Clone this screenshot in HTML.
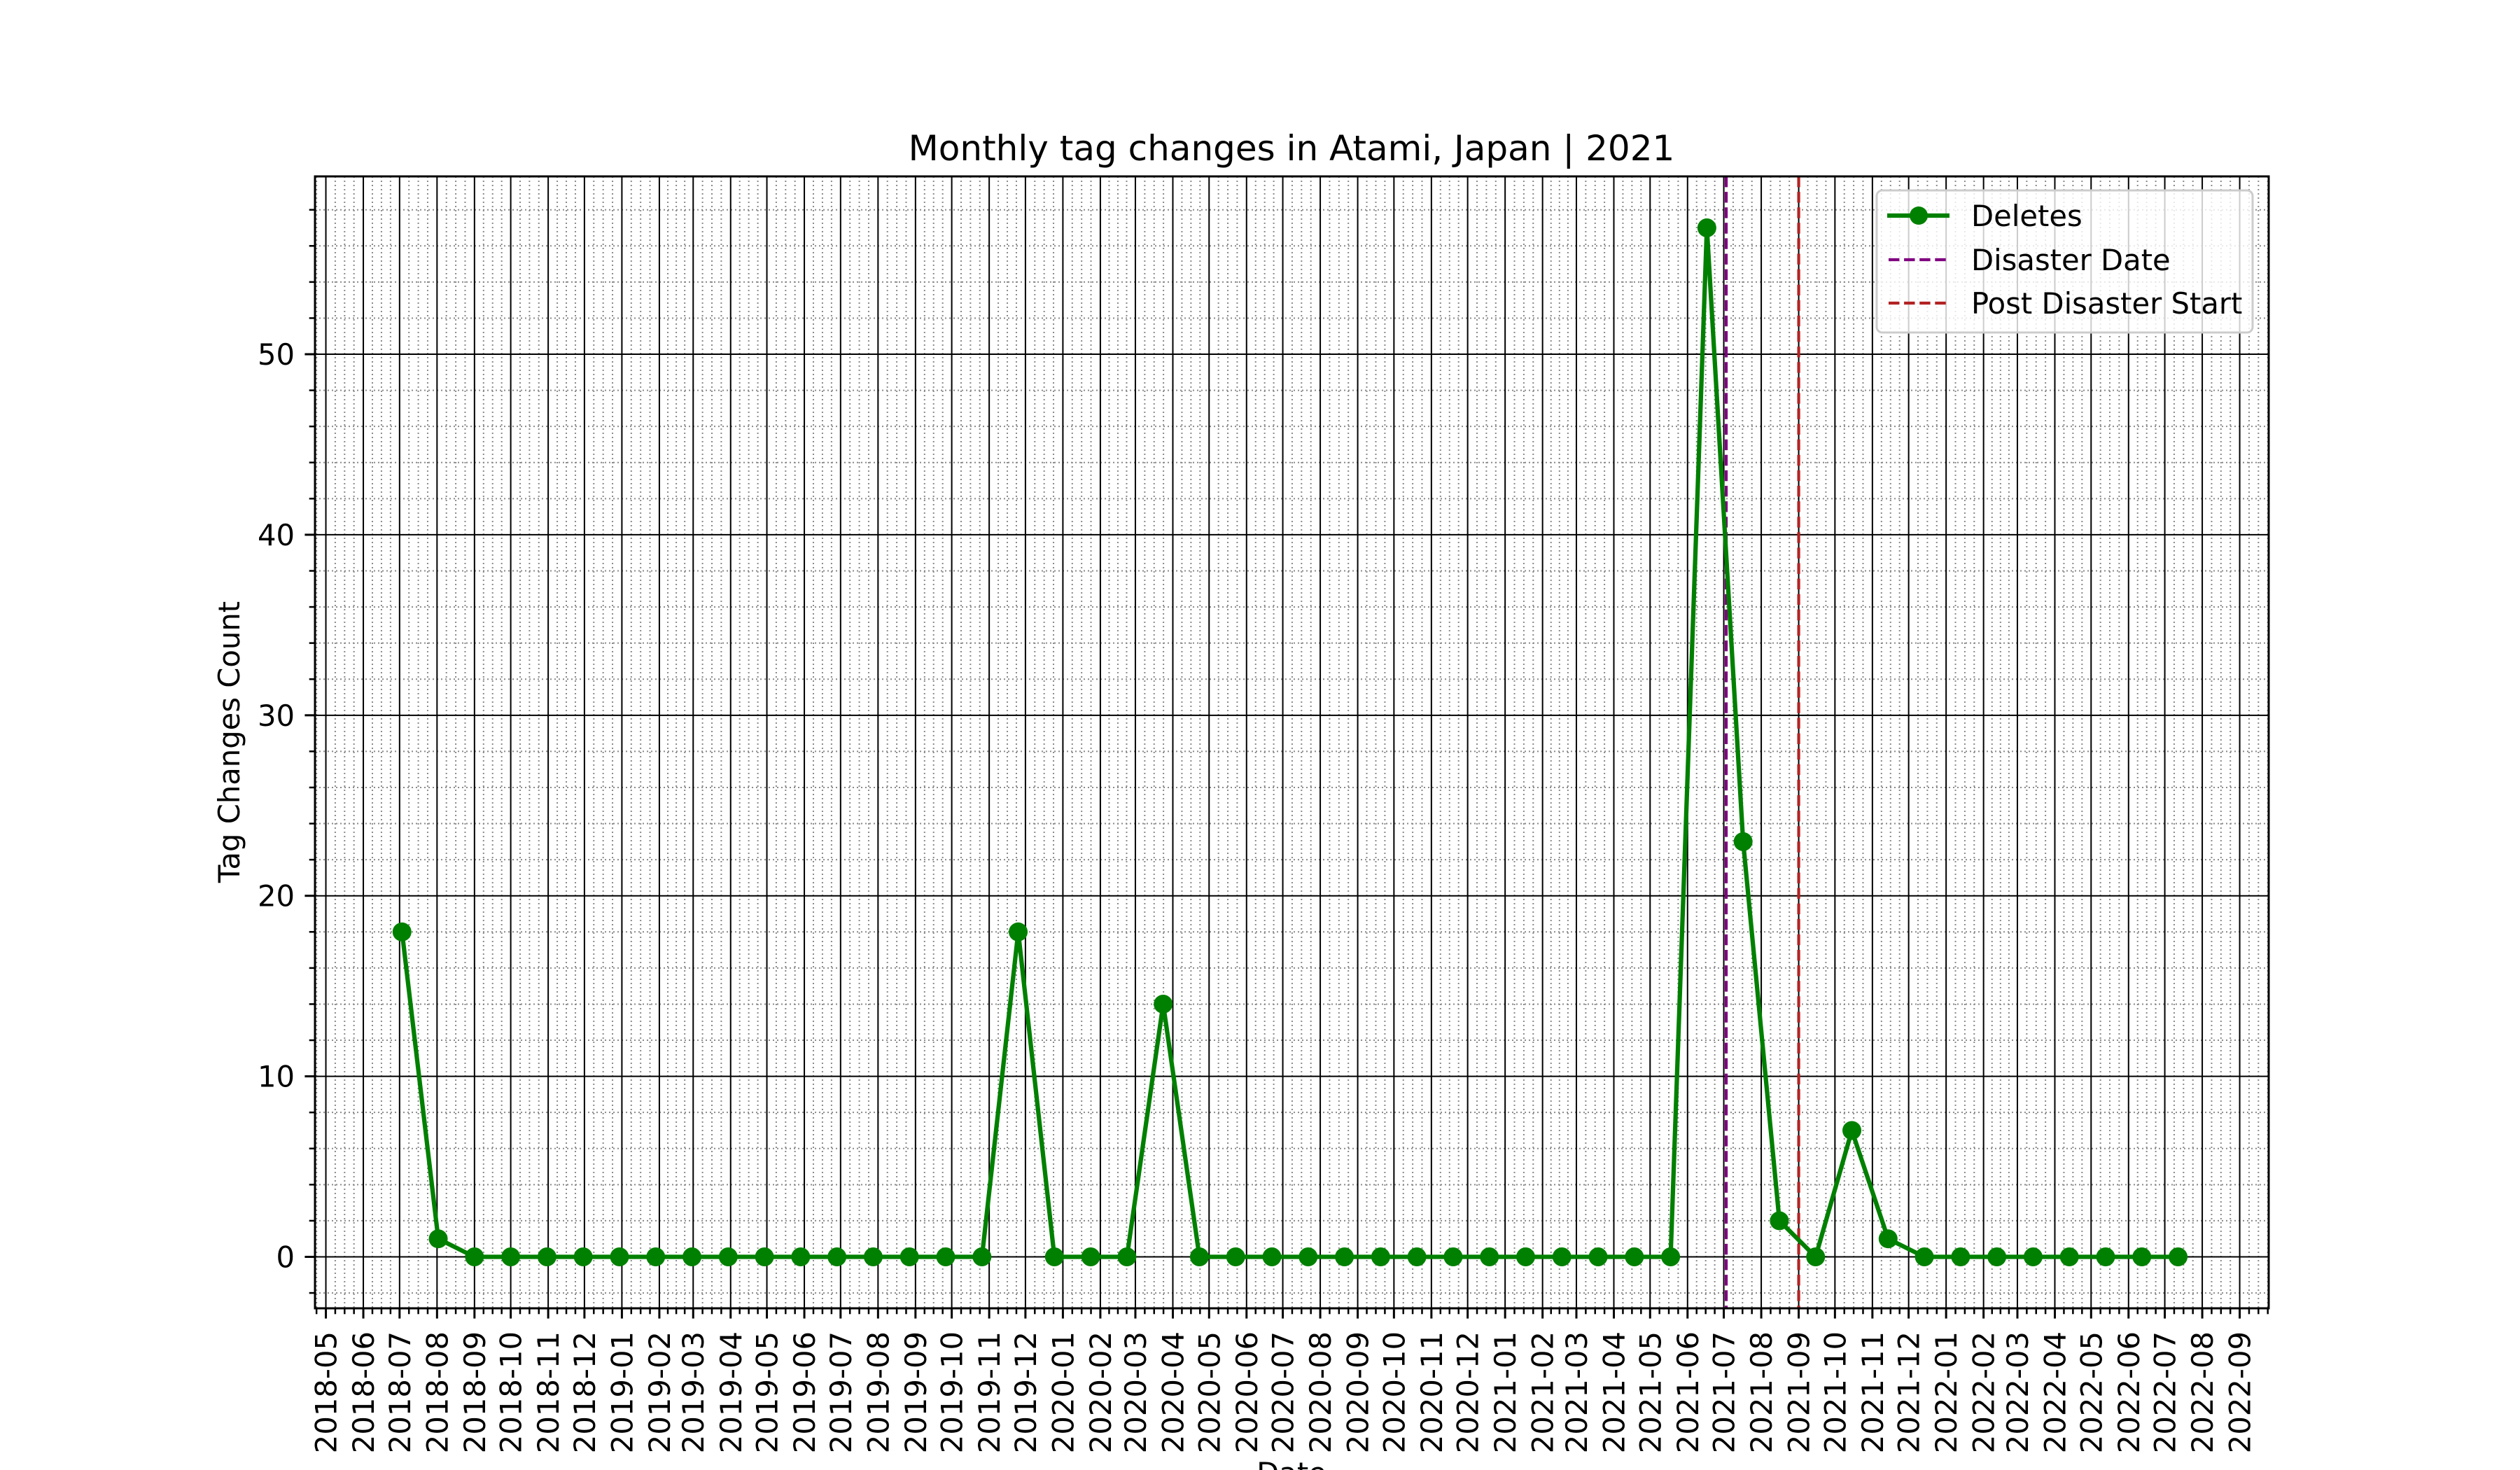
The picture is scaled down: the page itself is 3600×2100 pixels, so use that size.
<!DOCTYPE html>
<html><head><meta charset="utf-8"><style>
html,body{margin:0;padding:0;background:#fff}
svg{display:block}
text{font-family:"DejaVu Sans","Liberation Sans",sans-serif;fill:#000}
</style></head><body>
<svg id="chart" xmlns="http://www.w3.org/2000/svg" width="3600" height="2100" viewBox="0 0 3600 2100">
<rect x="0" y="0" width="3600" height="2100" fill="#fff"/>
<g id="grid"></g>
<g id="marks"></g>
<g id="axes"></g>
<text x="1845" y="229" font-size="50" text-anchor="middle">Monthly tag changes in Atami, Japan | 2021</text>
<text x="0" y="0" font-size="41.7" text-anchor="middle" transform="translate(342,1060) rotate(-90)">Tag Changes Count</text>
<text x="1845" y="2119" font-size="41.7" text-anchor="middle">Date</text>
<g id="legend">
  <rect x="2681" y="272" width="537" height="203" rx="8" fill="rgba(255,255,255,0.8)" stroke="#cccccc" stroke-width="3"/>
  <g>
    <line x1="2696" y1="308" x2="2785" y2="308" stroke="#008000" stroke-width="6.25"/>
    <circle cx="2741" cy="308" r="13" fill="#008000"/>
    <text x="2816" y="323" font-size="41.7">Deletes</text>
  </g>
  <g>
    <line x1="2698" y1="371" x2="2785" y2="371" stroke="#800080" stroke-width="4.2" stroke-dasharray="15.4,6.7"/>
    <text x="2816" y="386" font-size="41.7">Disaster Date</text>
  </g>
  <g>
    <line x1="2698" y1="433" x2="2785" y2="433" stroke="#b22222" stroke-width="4.2" stroke-dasharray="15.4,6.7"/>
    <text x="2816" y="448" font-size="41.7">Post Disaster Start</text>
  </g>
</g>
</svg>
<script>
const dates = ["2018-07-03","2018-08-02","2018-09-01","2018-10-01","2018-10-31","2018-11-30","2018-12-30","2019-01-29","2019-02-28","2019-03-30","2019-04-29","2019-05-29","2019-06-28","2019-07-28","2019-08-27","2019-09-26","2019-10-26","2019-11-25","2019-12-25","2020-01-24","2020-02-23","2020-03-24","2020-04-23","2020-05-23","2020-06-22","2020-07-22","2020-08-21","2020-09-20","2020-10-20","2020-11-19","2020-12-19","2021-01-18","2021-02-17","2021-03-19","2021-04-18","2021-05-18","2021-06-17","2021-07-17","2021-08-16","2021-09-15","2021-10-15","2021-11-14","2021-12-14","2022-01-13","2022-02-12","2022-03-14","2022-04-13","2022-05-13","2022-06-12","2022-07-12"];
const deletes = [18,1,0,0,0,0,0,0,0,0,0,0,0,0,0,0,0,18,0,0,0,14,0,0,0,0,0,0,0,0,0,0,0,0,0,0,57,23,2,0,7,1,0,0,0,0,0,0,0,0];
const disasterDate = "2021-07-03";
const postDisasterStart = "2021-09-01";
const yTicks = [0,10,20,30,40,50];
const xDomain = ["2018-04-22","2022-09-25"];
const yDomain = [-2.85,59.85];

const NS="http://www.w3.org/2000/svg";
const L=450, R=3241, T=252, B=1869;
const t=d=>Date.parse(d+"T00:00:00Z");
const x0=t(xDomain[0]), x1=t(xDomain[1]);
const xs=d=>L+(t(d)-x0)/(x1-x0)*(R-L);
const ys=v=>B-(v-yDomain[0])/(yDomain[1]-yDomain[0])*(B-T);
function mk(tag,attrs,parent){const e=document.createElementNS(NS,tag);for(const k in attrs)e.setAttribute(k,attrs[k]);parent.appendChild(e);return e;}
const grid=document.getElementById('grid'), axes=document.getElementById('axes'), marks=document.getElementById('marks');

// month ticks
const months=[];
for(let y=2018,m=5;!(y===2022&&m>9);){months.push(y+"-"+String(m).padStart(2,'0'));m++;if(m>12){m=1;y++;}}
const mx=months.map(s=>xs(s+"-01"));
const minors=[];
for(let i=0;i<mx.length-1;i++){const st=(mx[i+1]-mx[i])/4;for(let k=1;k<4;k++)minors.push(mx[i]+st*k);}
const stp=(mx[1]-mx[0])/4;
for(let p=mx[0]-stp;p>=L;p-=stp)minors.push(p);
for(let p=mx[mx.length-1]+stp;p<=R;p+=stp)minors.push(p);
// y minors
const yMin=[];for(let v=-2;v<=58;v+=2){if(v%10!==0)yMin.push(v);}

minors.forEach(p=>{const e=mk('line',{x1:p,x2:p,y1:T,y2:B,stroke:'#8a8a8a','stroke-width':2,'stroke-dasharray':'2,4'},grid);

});
yMin.forEach(v=>{const e=mk('line',{x1:L,x2:R,y1:ys(v),y2:ys(v),stroke:'#8a8a8a','stroke-width':2,'stroke-dasharray':'2,4'},grid);

});
mx.forEach(p=>{const e=mk('line',{x1:p,x2:p,y1:T,y2:B,stroke:'#000','stroke-width':2},grid);

});
yTicks.forEach(v=>{const e=mk('line',{x1:L,x2:R,y1:ys(v),y2:ys(v),stroke:'#000','stroke-width':2},grid);

});

// vertical reference lines
const dl=mk('line',{x1:xs(disasterDate),x2:xs(disasterDate),y1:T,y2:B,stroke:'#800080','stroke-width':4.2,'stroke-dasharray':'15.4,6.7'},marks);


const pl=mk('line',{x1:xs(postDisasterStart),x2:xs(postDisasterStart),y1:T,y2:B,stroke:'#b22222','stroke-width':4.2,'stroke-dasharray':'15.4,6.7'},marks);



// series
const pts=dates.map((d,i)=>xs(d).toFixed(1)+","+ys(deletes[i]).toFixed(1)).join(" ");
const ln=mk('polyline',{points:pts,fill:'none',stroke:'#008000','stroke-width':6.25,'stroke-linejoin':'round'},marks);


dates.forEach((d,i)=>{const c=mk('circle',{cx:xs(d),cy:ys(deletes[i]),r:13.5,fill:'#008000'},marks);

});

// spines
const sp=mk('rect',{x:L,y:T,width:R-L,height:B-T,fill:'none',stroke:'#000','stroke-width':3},axes);



// x ticks
mx.forEach((p,i)=>{const tk=mk('line',{x1:p,x2:p,y1:B,y2:B+14.6,stroke:'#000','stroke-width':3},axes);


const tx=mk('text',{x:0,y:0,'font-size':41.7,'text-anchor':'end',transform:`translate(${p+15},1902) rotate(-90)`},axes);
tx.textContent=months[i];

});
minors.forEach(p=>{const tk=mk('line',{x1:p,x2:p,y1:B,y2:B+8.3,stroke:'#000','stroke-width':2.5},axes);

});
// y ticks
yTicks.forEach(v=>{const tk=mk('line',{x1:L-14.6,x2:L,y1:ys(v),y2:ys(v),stroke:'#000','stroke-width':3},axes);


const tx=mk('text',{x:L-29,y:ys(v)+15,'font-size':41.7,'text-anchor':'end'},axes);
tx.textContent=String(v);

});
yMin.forEach(v=>{const tk=mk('line',{x1:L-8.3,x2:L,y1:ys(v),y2:ys(v),stroke:'#000','stroke-width':2.5},axes);

});
</script>
</body></html>
